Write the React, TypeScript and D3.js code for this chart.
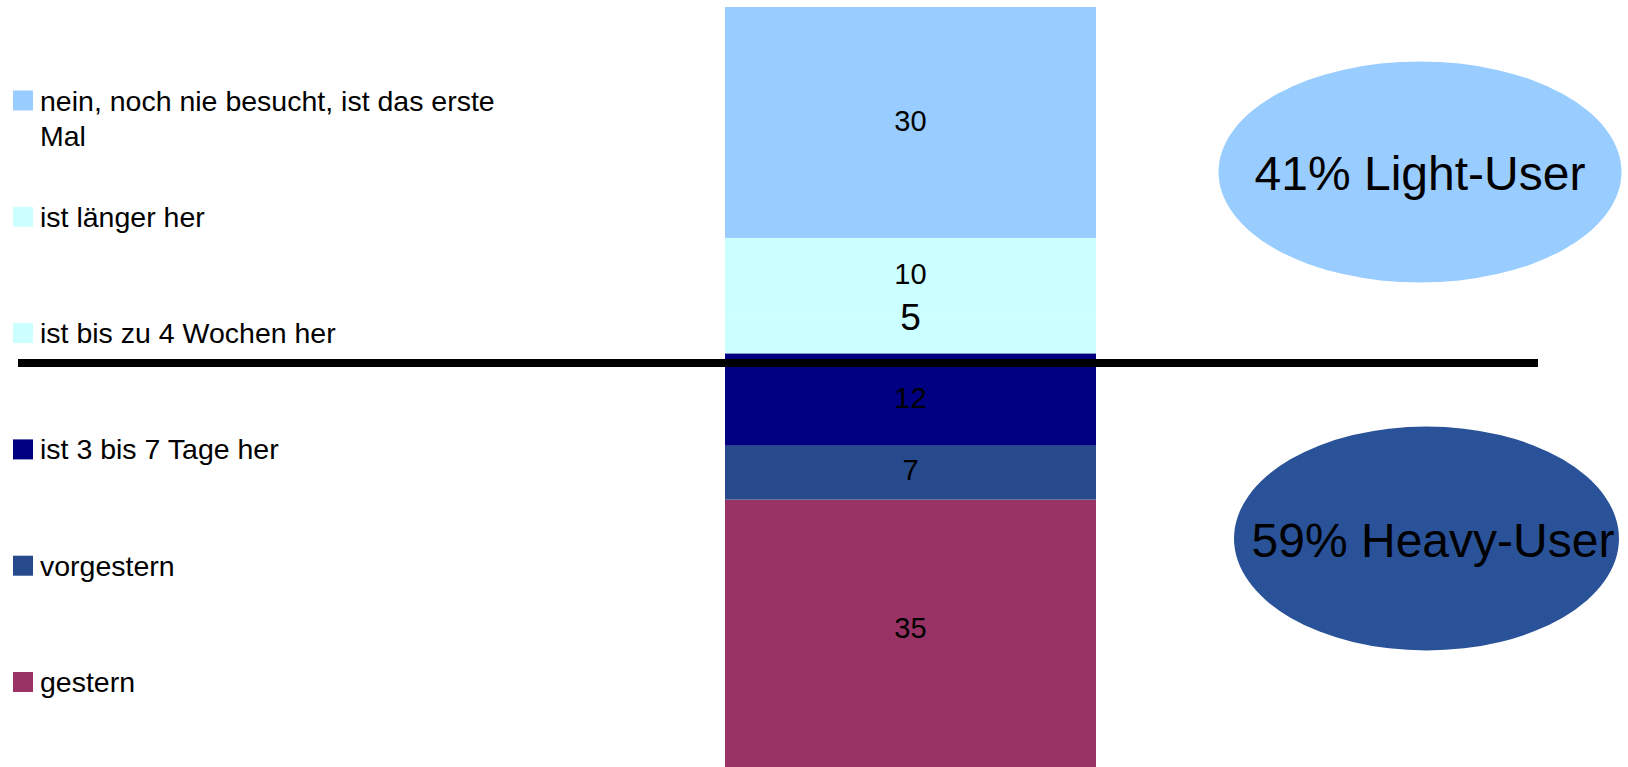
import React from "react";
import * as d3 from "d3";

// ---- data ----
const categories = [
  "nein, noch nie besucht, ist das erste Mal",
  "ist länger her",
  "ist bis zu 4 Wochen her",
  "ist 3 bis 7 Tage her",
  "vorgestern",
  "gestern",
];
const values = [30, 10, 5, 12, 7, 35];
const colors = ["#99CCFF", "#CCFFFF", "#CCFFFF", "#000080", "#264A8C", "#993366"];
const legendLines = [
  ["nein, noch nie besucht, ist das erste", "Mal"],
  ["ist länger her"],
  ["ist bis zu 4 Wochen her"],
  ["ist 3 bis 7 Tage her"],
  ["vorgestern"],
  ["gestern"],
];
const groupLabels = ["41% Light-User", "59% Heavy-User"];
const groupColors = ["#99CCFF", "#2A5298"];

// label styling (offsets / sizes per segment)
const labelDy = [-2, -3, -17, -2, -3, -7];
const labelSize = [29, 29, 37, 29, 29, 29];

const W = 1628;
const H = 767;
const FONT = "'Liberation Sans', Arial, sans-serif";

export default function App() {
  const total = d3.sum(values);
  const y = d3.scaleLinear().domain([0, total]).range([769, 7]);
  const x = d3.scaleBand().domain(["bar"]).range([725, 1096]).padding(0);

  // stack from bottom (last category) to top (first)
  const bottomUp = categories.map((c, i) => i).reverse();
  const row: Record<string, number> = {};
  bottomUp.forEach((i) => (row[categories[i]] = values[i]));
  const stack = d3.stack<Record<string, number>>().keys(bottomUp.map((i) => categories[i]));
  const series = stack([row]);

  const legendY = d3.scaleLinear().domain([0, categories.length - 1]).range([100.5, 682]);

  return (
    <svg
      width={W}
      height={H}
      style={{ position: "absolute", left: 0, top: 0, background: "#fff" }}
      fontFamily={FONT}
    >
      {series.map((s) => {
        const idx = categories.indexOf(s.key);
        const [y0, y1] = s[0];
        return (
          <g key={s.key}>
            <rect
              x={x("bar")}
              width={x.bandwidth()}
              y={y(y1)}
              height={y(y0) - y(y1)}
              fill={colors[idx]}
            />
          </g>
        );
      })}
      {series.map((s) => {
        const idx = categories.indexOf(s.key);
        const [y0, y1] = s[0];
        const cy = (y(y0) + y(y1)) / 2 + labelDy[idx];
        return (
          <text
            key={"l" + s.key}
            x={(x("bar") as number) + x.bandwidth() / 2}
            y={cy}
            dy="0.36em"
            textAnchor="middle"
            fontSize={labelSize[idx]}
            fill="#000"
          >
            {values[idx]}
          </text>
        );
      })}

      {/* divider line */}
      <line x1={18} x2={1538} y1={363} y2={363} stroke="#000" strokeWidth={8} />

      {/* legend */}
      {categories.map((c, i) => {
        const cy = legendY(i);
        return (
          <g key={"lg" + c}>
            <rect x={13} y={cy - 10} width={20} height={20} fill={colors[i]} />
            {legendLines[i].map((ln, j) => (
              <text key={j} x={40} y={cy + 10 + j * 35} fontSize={28.5} fill="#000">
                {ln}
              </text>
            ))}
          </g>
        );
      })}

      {/* group ellipses */}
      <ellipse cx={1420} cy={172} rx={201.5} ry={110.5} fill={groupColors[0]} />
      <text x={1420} y={190} textAnchor="middle" fontSize={48} fill="#000">
        {groupLabels[0]}
      </text>
      <ellipse cx={1426.5} cy={538.5} rx={192.5} ry={112} fill={groupColors[1]} />
      <text x={1433} y={557} textAnchor="middle" fontSize={48} fill="#000">
        {groupLabels[1]}
      </text>
    </svg>
  );
}
